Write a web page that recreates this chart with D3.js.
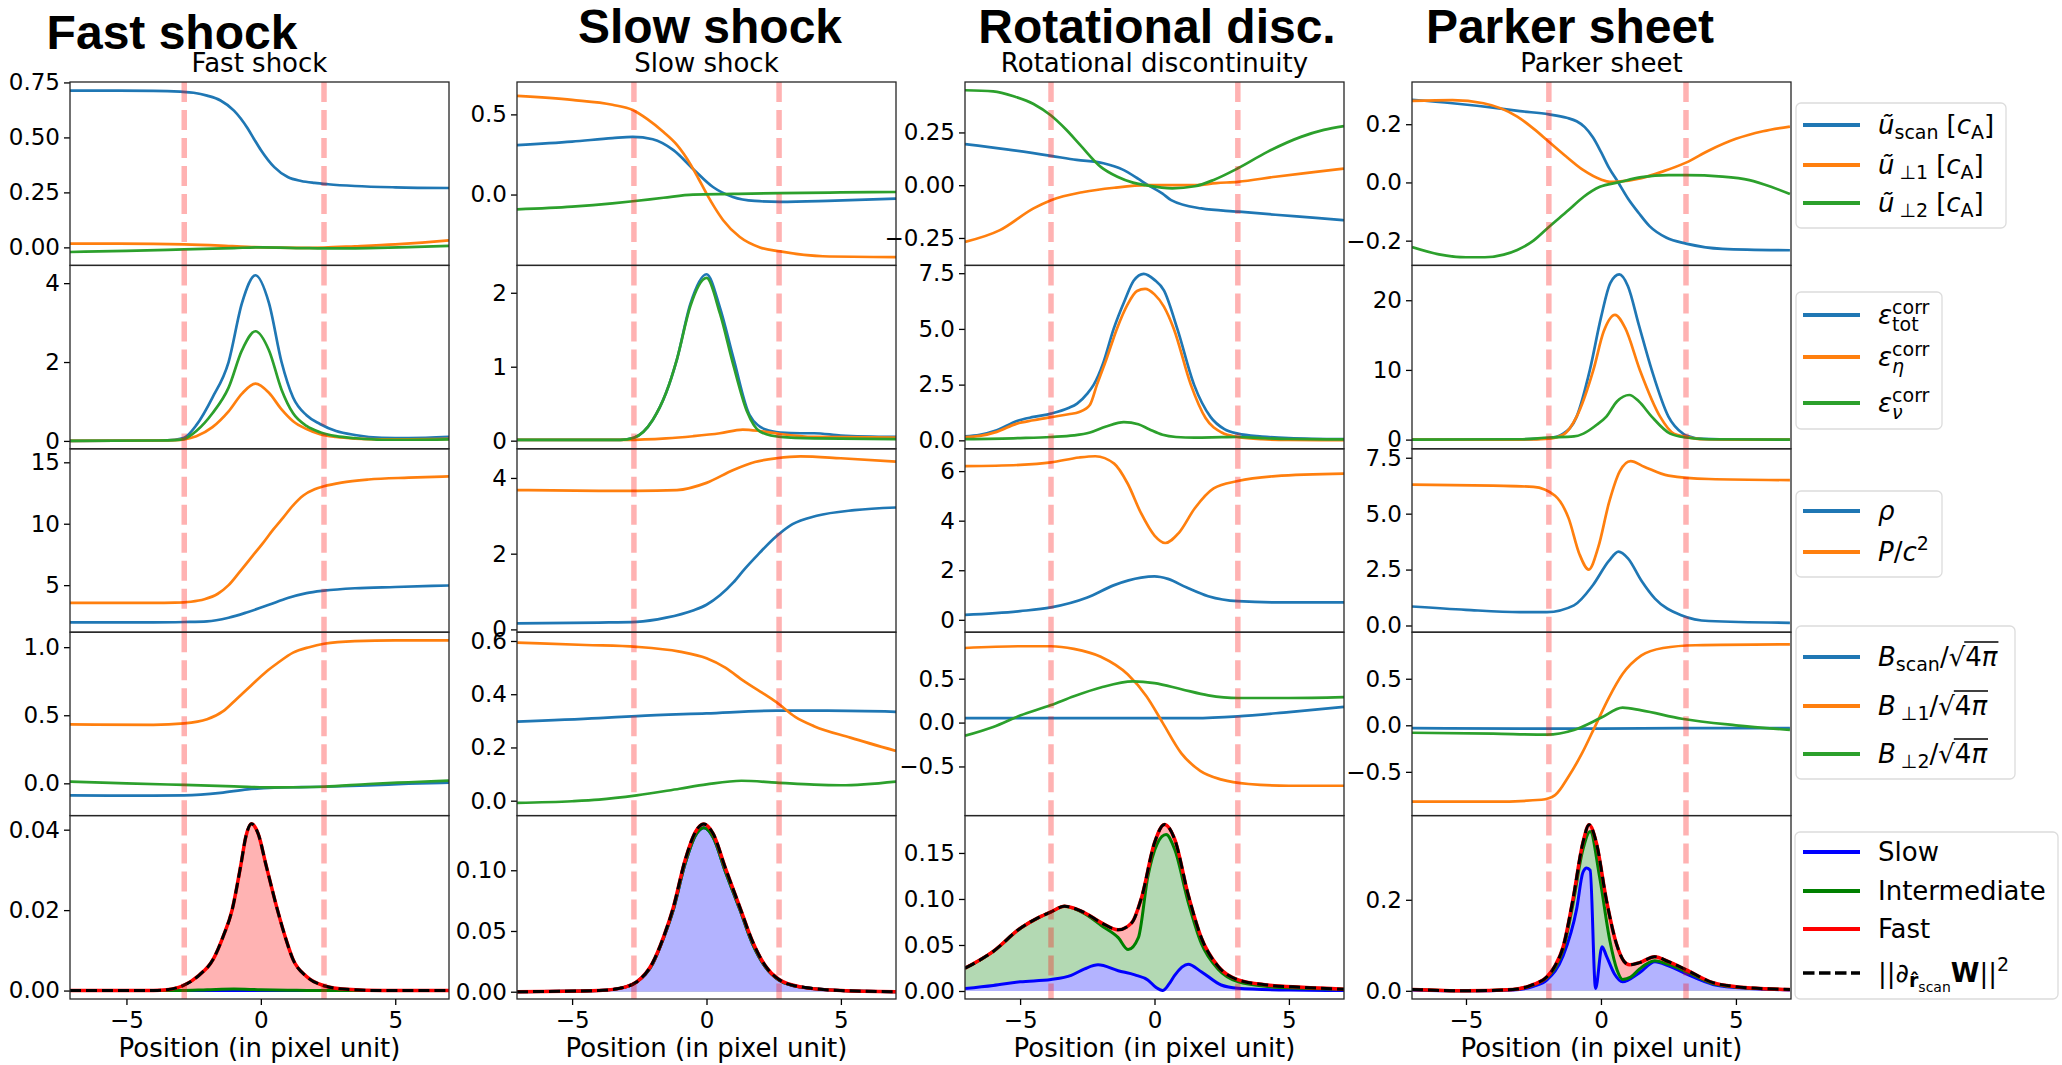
<!DOCTYPE html>
<html><head><meta charset="utf-8">
<script src="https://cdn.jsdelivr.net/npm/d3@7"></script>
<style>body{margin:0;background:#fff} text{font-family:"DejaVu Sans",sans-serif;fill:#000}</style>
</head><body><svg id="c" width="2062" height="1065"></svg>
<script>
// ---------------- DATA (x in pixel units, y values) ----------------
const bigTitles = ["Fast shock","Slow shock","Rotational disc.","Parker sheet"];
const subTitles = ["Fast shock","Slow shock","Rotational discontinuity","Parker sheet"];
const xTicks = [-5,0,5];
const xLabel = "Position (in pixel unit)";
const dashPos = [[-2.85,2.35],[-2.7,2.7],[-3.85,3.1],[-1.93,3.15]];

// Row 1: velocities
const fast_u_scan=[[-7.1,0.713],[-4,0.712],[-3,0.708],[-2.5,0.703],[-2,0.69],[-1.5,0.668],[-1,0.622],[-0.5,0.543],[-0.25,0.492],[0,0.443],[0.5,0.365],[1,0.32],[1.5,0.302],[2,0.293],[2.5,0.287],[3.5,0.279],[5,0.273],[7,0.27]];
const fast_u_perp1=[[-7.1,0.017],[-4,0.016],[-2.85,0.014],[-1.5,0.008],[-0.5,0.002],[0.5,-0.001],[1.5,-0.002],[2.35,-0.001],[3.5,0.005],[5,0.014],[6,0.022],[7,0.032]];
const fast_u_perp2=[[-7.1,-0.021],[-5,-0.016],[-2.85,-0.009],[-1,-0.003],[0,0],[1.5,-0.003],[2.35,-0.005],[4,-0.003],[5.5,0.001],[7,0.007]];
const slow_u_scan=[[-7.05,0.308],[-5,0.33],[-3.5,0.352],[-2.74,0.36],[-2,0.345],[-1.23,0.277],[-0.5,0.16],[0.24,0.047],[0.98,-0.015],[1.8,-0.04],[2.74,-0.046],[4.5,-0.04],[7.05,-0.025]];
const slow_u_perp1=[[-7.05,0.615],[-5,0.59],[-3.5,0.56],[-2.74,0.527],[-2.2,0.47],[-1.6,0.39],[-1.1,0.31],[-0.6,0.19],[-0.3,0.1],[0,0.006],[0.3,-0.08],[0.62,-0.16],[1.24,-0.265],[1.99,-0.33],[2.74,-0.355],[4.33,-0.385],[7.05,-0.39]];
const slow_u_perp2=[[-7.05,-0.092],[-5,-0.075],[-3.5,-0.055],[-2.74,-0.042],[-1.6,-0.02],[-0.5,0],[1,0.004],[2.74,0.009],[5,0.013],[7.05,0.016]];
const rot_u_scan=[[-7.05,0.195],[-5.5,0.17],[-3.85,0.139],[-2.9,0.12],[-1.9,0.104],[-1.2,0.075],[-0.6,0.03],[-0.3,0.005],[0.3,-0.04],[0.62,-0.071],[1.74,-0.11],[3.1,-0.125],[4.5,-0.14],[6,-0.155],[7.05,-0.166]];
const rot_u_perp1=[[-7.05,-0.269],[-5.75,-0.213],[-4.5,-0.11],[-3.85,-0.071],[-2.64,-0.032],[-1.5,-0.012],[-0.3,0],[1.5,0],[2.3,0.01],[3.1,0.016],[4.5,0.04],[6,0.063],[7.05,0.079]];
const rot_u_perp2=[[-7.05,0.45],[-6,0.445],[-5.2,0.42],[-4.5,0.385],[-3.85,0.33],[-3.3,0.265],[-2.76,0.19],[-2.0,0.087],[-1.38,0.04],[-0.8,0.012],[-0.33,0],[0.66,-0.015],[1.5,-0.005],[2.2,0.025],[3.1,0.08],[4.2,0.158],[5.45,0.229],[6.3,0.262],[7.05,0.28]];
const park_u_scan=[[-7,0.284],[-5.5,0.272],[-4,0.257],[-3,0.245],[-1.93,0.234],[-1.27,0.222],[-0.9,0.21],[-0.6,0.19],[-0.3,0.155],[0,0.105],[0.3,0.05],[0.64,0],[1.0,-0.055],[1.4,-0.105],[1.8,-0.15],[2.43,-0.19],[3.15,-0.21],[4.5,-0.228],[7,-0.233]];
const park_u_perp1=[[-7,0.28],[-5.5,0.283],[-4.35,0.272],[-3.1,0.226],[-2.5,0.185],[-1.93,0.14],[-1.3,0.09],[-0.65,0.042],[0,0.01],[0.33,0.002],[0.64,0.003],[1.5,0.015],[2.3,0.038],[3.15,0.068],[4,0.11],[5,0.15],[6,0.176],[7,0.192]];
const park_u_perp2=[[-7,-0.222],[-6,-0.247],[-5,-0.257],[-4.3,-0.257],[-3.6,-0.248],[-3.1,-0.232],[-2.5,-0.2],[-1.93,-0.153],[-1.2,-0.095],[-0.65,-0.05],[-0.04,-0.015],[0.64,0],[1.5,0.018],[2.5,0.025],[3.15,0.025],[4.5,0.02],[5.5,0.008],[6.3,-0.015],[7,-0.04]];

// Row 2: dissipation
const fast_eps_tot=[[-7.1,0],[-3.8,0.01],[-3.2,0.03],[-2.85,0.08],[-2.4,0.4],[-1.8,1.1],[-1.2,2.0],[-0.7,3.5],[-0.2,4.2],[0.3,3.5],[0.77,2.0],[1.2,1.1],[1.7,0.65],[2.2,0.43],[2.8,0.25],[3.5,0.15],[4.5,0.08],[5.5,0.07],[7,0.1]];
const fast_eps_eta=[[-7.1,0],[-3.8,0.01],[-3.2,0.02],[-2.85,0.04],[-2.4,0.12],[-1.8,0.35],[-1.2,0.75],[-0.7,1.2],[-0.2,1.45],[0.3,1.22],[0.77,0.8],[1.2,0.5],[1.7,0.3],[2.2,0.17],[2.8,0.1],[3.5,0.06],[4.5,0.04],[5.5,0.04],[7,0.05]];
const fast_eps_nu=[[-7.1,0],[-3.8,0.01],[-3.2,0.02],[-2.85,0.05],[-2.4,0.25],[-1.8,0.7],[-1.2,1.35],[-0.7,2.3],[-0.2,2.78],[0.3,2.3],[0.77,1.3],[1.2,0.7],[1.7,0.38],[2.2,0.22],[2.8,0.12],[3.5,0.07],[4.5,0.03],[5.5,0.03],[7,0.04]];
const slow_eps_tot=[[-7.05,0.01],[-3.2,0.01],[-2.7,0.04],[-2,0.28],[-1.5,0.65],[-1.1,1.1],[-0.6,1.85],[0,2.25],[0.5,1.8],[1.0,1.12],[1.6,0.35],[2.2,0.15],[2.75,0.11],[3.5,0.1],[4,0.1],[5,0.07],[7.05,0.05]];
const slow_eps_eta=[[-7.05,0.01],[-3,0.01],[-1.5,0.03],[-0.5,0.06],[0.5,0.1],[1.35,0.15],[2,0.13],[2.75,0.09],[4,0.05],[7.05,0.04]];
const slow_eps_nu=[[-7.05,0.01],[-3.2,0.01],[-2.7,0.04],[-2,0.28],[-1.5,0.65],[-1.1,1.1],[-0.6,1.82],[0,2.2],[0.5,1.72],[1.0,1.02],[1.5,0.4],[2.0,0.12],[2.75,0.05],[4,0.03],[7.05,0.02]];
const rot_eps_tot=[[-7.05,0.18],[-6.5,0.25],[-5.87,0.45],[-5.12,0.87],[-4.5,1.05],[-3.85,1.2],[-3.2,1.45],[-2.88,1.65],[-2.5,2.1],[-2.26,2.5],[-1.9,3.5],[-1.52,5.0],[-1.1,6.3],[-0.77,7.17],[-0.4,7.47],[0,7.2],[0.35,6.73],[0.85,5.0],[1.47,2.5],[2.09,1.04],[2.6,0.5],[3.1,0.3],[4,0.17],[5,0.1],[7.05,0.05]];
const rot_eps_eta=[[-7.05,0.15],[-6.5,0.2],[-5.87,0.38],[-5.12,0.75],[-4.5,0.9],[-3.85,1.04],[-3.2,1.17],[-2.8,1.27],[-2.4,1.6],[-2.14,2.5],[-1.8,3.6],[-1.4,5.0],[-1.0,6.1],[-0.65,6.7],[-0.35,6.8],[0,6.55],[0.35,6.0],[0.72,5.0],[1.35,2.5],[1.9,1.0],[2.5,0.35],[3.1,0.15],[4,0.05],[5,0.02],[7.05,0.01]];
const rot_eps_nu=[[-7.05,0.05],[-5,0.1],[-3.85,0.15],[-3,0.22],[-2.4,0.35],[-1.8,0.62],[-1.14,0.82],[-0.6,0.72],[-0.2,0.5],[0.3,0.25],[0.8,0.15],[1.5,0.12],[2.5,0.14],[3.1,0.15],[4,0.1],[5,0.06],[7.05,0.04]];
const park_eps_tot=[[-7,0],[-3,0.02],[-1.93,0.2],[-1.4,0.86],[-0.9,3.3],[-0.41,10],[0,17.5],[0.35,22.5],[0.68,23.7],[1.0,22],[1.4,16.5],[1.88,10],[2.5,3.3],[3.04,0.86],[3.15,0.6],[3.8,0.1],[5,0],[7,0]];
const park_eps_eta=[[-7,0],[-3,0.01],[-1.93,0.15],[-1.4,0.7],[-0.9,3.3],[-0.28,10],[0.1,15.5],[0.52,17.9],[0.9,16],[1.44,10],[2.19,3.3],[2.7,0.86],[3.15,0.4],[3.8,0.05],[5,0],[7,0]];
const park_eps_nu=[[-7,0],[-3,0.05],[-1.93,0.3],[-1,0.45],[-0.65,0.86],[-0.2,2.0],[0.2,3.3],[0.6,5.5],[1.05,6.4],[1.4,5.5],[1.88,3.3],[2.56,0.86],[3.15,0.3],[4,0.05],[7,0]];

// Row 3: density and pressure
const fast_rho=[[-7.1,1.97],[-4,1.97],[-2.85,2.0],[-2,2.05],[-1.2,2.35],[-0.5,2.8],[0.3,3.4],[1,3.95],[1.7,4.35],[2.35,4.55],[3.5,4.75],[5,4.85],[7,4.97]];
const fast_P=[[-7.1,3.56],[-4,3.55],[-3.2,3.57],[-2.6,3.65],[-2.1,3.85],[-1.6,4.3],[-1.2,5.0],[-0.78,6.1],[-0.3,7.4],[0.07,8.4],[0.45,9.5],[0.83,10.5],[1.2,11.5],[1.58,12.3],[2.0,12.8],[2.35,13.05],[3,13.35],[4,13.6],[5.5,13.75],[7,13.85]];
const slow_rho=[[-7.05,0.16],[-4,0.18],[-2.6,0.2],[-1.5,0.31],[-0.5,0.5],[0,0.65],[0.5,0.9],[1,1.24],[1.4,1.58],[1.88,1.95],[2.6,2.46],[3.2,2.78],[4.1,3.0],[5.5,3.15],[7.05,3.22]];
const slow_P=[[-7.05,3.68],[-4,3.66],[-2.6,3.66],[-1.1,3.68],[0,3.87],[1,4.21],[1.8,4.42],[2.6,4.52],[3.5,4.57],[5,4.52],[7.05,4.43]];
const rot_rho=[[-7.05,0.2],[-5,0.35],[-3.85,0.5],[-2.5,0.9],[-1.5,1.4],[-0.5,1.7],[0,1.75],[0.5,1.65],[1.2,1.3],[2,0.95],[3.1,0.75],[5,0.7],[7.05,0.7]];
const rot_P=[[-7.05,6.2],[-5,6.25],[-3.85,6.35],[-2.8,6.55],[-2.2,6.6],[-1.5,6.3],[-1,5.5],[-0.5,4.3],[0,3.4],[0.4,3.1],[0.9,3.5],[1.5,4.5],[2.2,5.3],[3.1,5.6],[4.5,5.8],[7.05,5.9]];
const park_rho=[[-7,0.85],[-5,0.7],[-3,0.6],[-2,0.6],[-1,0.9],[-0.3,1.8],[0.3,2.9],[0.65,3.3],[1.0,3.0],[1.5,2.0],[2,1.2],[3,0.45],[4,0.2],[7,0.12]];
const park_P=[[-7,6.3],[-4,6.25],[-2.5,6.2],[-1.7,5.8],[-1.2,4.8],[-0.8,3.2],[-0.45,2.5],[-0.1,3.5],[0.3,5.5],[0.7,6.9],[1.1,7.35],[1.6,7.1],[2.5,6.7],[4,6.55],[7,6.5]];

// Row 4: magnetic field
const fast_B_scan=[[-7.1,-0.089],[-4,-0.09],[-2.85,-0.088],[-1.5,-0.07],[-0.5,-0.045],[0.5,-0.032],[1.5,-0.028],[2.35,-0.025],[4,-0.015],[5.5,-0.003],[7,0.005]];
const fast_B_perp1=[[-7.1,0.433],[-4,0.43],[-2.85,0.44],[-2,0.47],[-1.4,0.53],[-0.9,0.62],[-0.37,0.717],[0.2,0.82],[0.6,0.88],[1.2,0.96],[1.8,1.0],[2.35,1.025],[3.5,1.045],[5,1.05],[7,1.05]];
const fast_B_perp2=[[-7.1,0.012],[-5,0.0],[-2.85,-0.012],[-1,-0.022],[0.5,-0.03],[2.35,-0.025],[4,-0.005],[5.5,0.008],[7,0.02]];
const slow_B_scan=[[-7.05,0.297],[-4,0.31],[-2.6,0.318],[0,0.328],[2.6,0.338],[4.5,0.338],[7.05,0.334]];
const slow_B_perp1=[[-7.05,0.594],[-4.5,0.585],[-2.6,0.578],[-1.0,0.56],[0,0.535],[0.7,0.5],[1.38,0.45],[2.0,0.41],[2.6,0.37],[3.3,0.315],[4.0,0.28],[5.35,0.237],[7.05,0.187]];
const slow_B_perp2=[[-7.05,-0.008],[-5,-0.002],[-4,0.004],[-2.6,0.02],[-1,0.045],[0,0.061],[1.3,0.075],[2.6,0.068],[4,0.06],[5,0.058],[7.05,0.072]];
const rot_B_scan=[[-7.05,0.05],[-4,0.05],[-2,0.05],[0,0.05],[1.5,0.05],[3.1,0.07],[5,0.12],[7.05,0.18]];
const rot_B_perp1=[[-7.05,0.85],[-5,0.87],[-3.85,0.87],[-3,0.84],[-2,0.75],[-1,0.55],[-0.3,0.3],[0.3,0],[1,-0.35],[1.7,-0.55],[2.5,-0.65],[3.5,-0.7],[5,-0.72],[7.05,-0.72]];
const rot_B_perp2=[[-7.05,-0.15],[-6,-0.05],[-5,0.08],[-3.85,0.2],[-3,0.3],[-2,0.4],[-0.8,0.47],[0,0.45],[1,0.38],[2,0.31],[3.1,0.28],[5,0.28],[7.05,0.29]];
const park_B_scan=[[-7,-0.03],[-3,-0.035],[0,-0.035],[3,-0.03],[7,-0.03]];
const park_B_perp1=[[-7,-0.82],[-4,-0.82],[-2.2,-0.8],[-1.7,-0.75],[-1.2,-0.55],[-0.7,-0.3],[-0.2,0],[0.3,0.3],[0.8,0.55],[1.5,0.75],[2.3,0.83],[3.5,0.86],[7,0.87]];
const park_B_perp2=[[-7,-0.08],[-4,-0.09],[-2,-0.1],[-1,-0.05],[0,0.08],[0.8,0.19],[1.5,0.16],[3,0.07],[5,0.0],[7,-0.05]];

// Row 5: wave decomposition (cumulative: slow, slow+intermediate, total)
const fast_slow=[[-7.1,0],[7,0]];
const fast_inter=[[-7.1,0],[-3,0],[-2,0.0002],[-1,0.0004],[0,0.0002],[1,0.0001],[2,0],[7,0]];
const fast_total=[[-7.1,0],[-4,0],[-3.5,0.0002],[-2.9,0.0012],[-2.3,0.0038],[-1.78,0.0077],[-1.4,0.0135],[-1.07,0.02],[-0.75,0.031],[-0.55,0.0385],[-0.35,0.0415],[-0.1,0.039],[0.2,0.031],[0.62,0.02],[0.9,0.0135],[1.2,0.0077],[1.7,0.0035],[2.35,0.0012],[3.2,0.0003],[4.5,0],[7,0]];
const slow_slow=[[-7.05,0],[-4,0.001],[-3,0.004],[-2.6,0.008],[-2,0.023],[-1.6,0.044],[-1.24,0.067],[-0.8,0.105],[-0.4,0.129],[-0.1,0.135],[0.25,0.127],[0.7,0.099],[1.25,0.067],[1.7,0.04],[2.2,0.02],[2.7,0.0095],[3.5,0.0038],[5,0.001],[7.05,0]];
const slow_inter=slow_slow;
const slow_total=[[-7.05,0],[-4,0.001],[-3,0.004],[-2.6,0.008],[-2,0.024],[-1.6,0.045],[-1.24,0.069],[-0.8,0.108],[-0.4,0.132],[-0.1,0.138],[0.25,0.13],[0.7,0.102],[1.25,0.069],[1.7,0.042],[2.2,0.021],[2.7,0.01],[3.5,0.004],[5,0.001],[7.05,0]];
const rot_slow=[[-7.05,0.0027],[-6,0.006],[-5,0.01],[-3.85,0.0125],[-3.1,0.017],[-2.6,0.024],[-2.1,0.0284],[-1.35,0.022],[-0.73,0.0175],[-0.25,0.012],[0.05,0.004],[0.3,0.0005],[0.55,0.008],[0.75,0.017],[1.25,0.029],[1.74,0.021],[2.48,0.0065],[3.1,0.003],[5,0.001],[7.05,0.0005]];
const rot_inter=[[-7.05,0.0247],[-6,0.043],[-5,0.068],[-4.3,0.08],[-3.85,0.086],[-3.35,0.092],[-2.6,0.084],[-1.97,0.071],[-1.35,0.058],[-0.98,0.045],[-0.6,0.058],[-0.25,0.124],[0.1,0.16],[0.43,0.17],[0.75,0.154],[1.25,0.097],[1.74,0.052],[2.36,0.024],[3.12,0.01],[4.2,0.005],[5.5,0.003],[7.05,0.002]];
const rot_total=[[-7.05,0.0247],[-6,0.043],[-5,0.068],[-4.3,0.08],[-3.85,0.086],[-3.35,0.092],[-2.6,0.085],[-1.97,0.074],[-1.35,0.0665],[-0.85,0.074],[-0.48,0.1017],[0,0.161],[0.37,0.181],[0.75,0.165],[1.25,0.105],[1.74,0.058],[2.36,0.027],[3.12,0.012],[4.2,0.0065],[5.5,0.004],[7.05,0.002]];
const park_slow=[[-7,0.002],[-5,0],[-3.26,0.002],[-2.5,0.01],[-2.0,0.024],[-1.4,0.077],[-0.9,0.18],[-0.67,0.26],[-0.53,0.27],[-0.4,0.265],[-0.2,0.005],[0.04,0.097],[0.2,0.077],[0.5,0.037],[0.8,0.02],[1.43,0.04],[2.0,0.064],[2.5,0.055],[3.16,0.037],[4.15,0.014],[5,0.007],[5.9,0.004],[7,0.002]];
const park_inter=[[-7,0.003],[-5,0],[-3.26,0.003],[-2.5,0.013],[-2.0,0.029],[-1.7,0.05],[-1.4,0.09],[-1.04,0.19],[-0.67,0.31],[-0.4,0.35],[-0.05,0.25],[0.33,0.11],[0.6,0.045],[0.8,0.025],[1.1,0.03],[1.43,0.048],[1.99,0.066],[2.5,0.058],[3.16,0.042],[4.15,0.016],[5,0.008],[5.9,0.005],[7,0.003]];
const park_total=[[-7,0.003],[-5,0],[-3.26,0.003],[-2.5,0.014],[-2.0,0.031],[-1.7,0.055],[-1.4,0.097],[-1.04,0.2],[-0.67,0.325],[-0.44,0.365],[-0.17,0.325],[0.2,0.2],[0.57,0.104],[0.85,0.065],[1.06,0.057],[1.43,0.062],[1.99,0.075],[2.5,0.064],[3.16,0.046],[4.15,0.018],[5,0.009],[5.9,0.005],[7,0.003]];

// Axis settings per row / column
const xDomains=[[-7.1,7.0],[-7.05,7.05],[-7.05,7.05],[-7.0,7.04]];
const yDomains=[
 [[-0.082,0.752],[-0.442,0.702],[-0.38,0.489],[-0.285,0.345]],
 [[-0.2,4.45],[-0.11,2.37],[-0.38,7.85],[-1.32,25.0]],
 [[1.17,16.1],[-0.074,4.77],[-0.5,6.9],[-0.3,7.9]],
 [[-0.237,1.11],[-0.056,0.633],[-1.06,1.03],[-0.97,1.0]],
 [[-0.0021,0.0435],[-0.006,0.145],[-0.0087,0.1906],[-0.018,0.385]]];
const yTicks=[
 [[0,0.25,0.5,0.75],[0,0.5],[-0.25,0,0.25],[-0.2,0,0.2]],
 [[0,2,4],[0,1,2],[0,2.5,5,7.5],[0,10,20]],
 [[5,10,15],[0,2,4],[0,2,4,6],[0,2.5,5,7.5]],
 [[0,0.5,1],[0,0.2,0.4,0.6],[-0.5,0,0.5],[-0.5,0,0.5]],
 [[0,0.02,0.04],[0,0.05,0.1],[0,0.05,0.1,0.15],[0,0.2]]];
const yFmt=[
 [".2f",".1f",".2f",".1f"],
 ["d","d",".1f","d"],
 ["d","d","d",".1f"],
 [".1f",".1f",".1f",".1f"],
 [".2f",".2f",".2f",".1f"]];

const rowSeries=[
 [[fast_u_scan,fast_u_perp1,fast_u_perp2],[slow_u_scan,slow_u_perp1,slow_u_perp2],[rot_u_scan,rot_u_perp1,rot_u_perp2],[park_u_scan,park_u_perp1,park_u_perp2]],
 [[fast_eps_tot,fast_eps_eta,fast_eps_nu],[slow_eps_tot,slow_eps_eta,slow_eps_nu],[rot_eps_tot,rot_eps_eta,rot_eps_nu],[park_eps_tot,park_eps_eta,park_eps_nu]],
 [[fast_rho,fast_P],[slow_rho,slow_P],[rot_rho,rot_P],[park_rho,park_P]],
 [[fast_B_scan,fast_B_perp1,fast_B_perp2],[slow_B_scan,slow_B_perp1,slow_B_perp2],[rot_B_scan,rot_B_perp1,rot_B_perp2],[park_B_scan,park_B_perp1,park_B_perp2]]];
const waveSeries=[[fast_slow,fast_inter,fast_total],[slow_slow,slow_inter,slow_total],[rot_slow,rot_inter,rot_total],[park_slow,park_inter,park_total]];

// ---------------- LAYOUT / STYLE ----------------
const TAB=["#1f77b4","#ff7f0e","#2ca02c"];
const colLeft=[70,517,965,1412], colW=379;
const rowTop=[82,265.4,448.8,632.2,815.6], rowH=183.4;
const bigTitleX=[172,710,1157,1570], bigTitleY=[49,42.5,42.5,42.5];

const svg=d3.select("#c");
svg.append("rect").attr("width",2062).attr("height",1065).attr("fill","#fff");
const defs=svg.append("defs");

function lineGen(x,y){return d3.line().x(d=>x(d[0])).y(d=>y(d[1])).curve(d3.curveMonotoneX);}
function areaGen(x,y){return d3.area().x(d=>x(d[0])).y0(y(0)).y1(d=>y(d[1])).curve(d3.curveMonotoneX);}

for(let c=0;c<4;c++){
  const L=colLeft[c];
  svg.append("text").attr("x",bigTitleX[c]).attr("y",bigTitleY[c]).attr("text-anchor","middle")
    .style("font-family","'Liberation Sans',Arial,sans-serif").attr("font-weight","bold").attr("font-size",48).text(bigTitles[c]);
  svg.append("text").attr("x",L+colW/2).attr("y",72).attr("text-anchor","middle").attr("font-size",26).text(subTitles[c]);
  const x=d3.scaleLinear().domain(xDomains[c]).range([L,L+colW]);
  for(let r=0;r<5;r++){
    const T=rowTop[r];
    const y=d3.scaleLinear().domain(yDomains[r][c]).range([T+rowH,T]);
    const id=`clip${r}${c}`;
    defs.append("clipPath").attr("id",id).append("rect").attr("x",L).attr("y",T).attr("width",colW).attr("height",rowH);
    const g=svg.append("g").attr("clip-path",`url(#${id})`);
    if(r<4){
      rowSeries[r][c].forEach((s,i)=>{
        g.append("path").attr("d",lineGen(x,y)(s)).attr("fill","none").attr("stroke",TAB[i])
          .attr("stroke-width",2.7).attr("stroke-linejoin","round");
      });
    } else {
      const [s,si,t]=waveSeries[c];
      const A=areaGen(x,y);
      g.append("path").attr("d",A(t)).attr("fill","#ffb3b3");
      g.append("path").attr("d",A(si)).attr("fill","#b3d9b3");
      g.append("path").attr("d",A(s)).attr("fill","#b3b3ff");
      const ln=lineGen(x,y);
      g.append("path").attr("d",ln(s)).attr("fill","none").attr("stroke","#0000ff").attr("stroke-width",3);
      g.append("path").attr("d",ln(si)).attr("fill","none").attr("stroke","#008000").attr("stroke-width",3);
      g.append("path").attr("d",ln(t)).attr("fill","none").attr("stroke","#ff0000").attr("stroke-width",3.5);
      g.append("path").attr("d",ln(t)).attr("fill","none").attr("stroke","#000").attr("stroke-width",3).attr("stroke-dasharray","11,5");
    }
    dashPos[c].forEach(v=>{
      g.append("line").attr("x1",x(v)).attr("x2",x(v)).attr("y1",T).attr("y2",T+rowH)
        .attr("stroke","#ff0000").attr("stroke-opacity",0.3).attr("stroke-width",5.5).attr("stroke-dasharray","20,8");
    });
    const ax=svg.append("g").attr("transform",`translate(${L},0)`)
      .call(d3.axisLeft(y).tickValues(yTicks[r][c]).tickFormat(d3.format(yFmt[r][c])).tickSize(6).tickPadding(4));
    ax.select(".domain").remove();
    ax.attr("font-size",23).attr("font-family","DejaVu Sans");
    ax.selectAll("line").attr("stroke","#000").attr("stroke-width",1.3);
    ax.selectAll("text").attr("fill","#000");
    svg.append("rect").attr("x",L).attr("y",T).attr("width",colW).attr("height",rowH)
      .attr("fill","none").attr("stroke","#262626").attr("stroke-width",1.3);
    if(r===4){
      const bx=svg.append("g").attr("transform",`translate(0,${T+rowH})`)
        .call(d3.axisBottom(x).tickValues(xTicks).tickFormat(d3.format("d")).tickSize(6).tickPadding(7));
      bx.select(".domain").remove();
      bx.attr("font-size",23).attr("font-family","DejaVu Sans");
      bx.selectAll("line").attr("stroke","#000").attr("stroke-width",1.3);
      bx.selectAll("text").attr("fill","#000");
      svg.append("text").attr("x",L+colW/2).attr("y",1057).attr("text-anchor","middle").attr("font-size",26).text(xLabel);
    }
  }
}

// ---------------- LEGENDS ----------------
const L_USCAN=[{t:"ũ",i:1},{t:"scan",sub:1},{gap:8},{t:"["},{t:"c",i:1},{t:"A",sub:1},{t:"]"}];
const L_UP1=[{t:"ũ",i:1},{gap:5},{t:"⊥1",sub:1},{gap:8},{t:"["},{t:"c",i:1},{t:"A",sub:1},{t:"]"}];
const L_UP2=[{t:"ũ",i:1},{gap:5},{t:"⊥2",sub:1},{gap:8},{t:"["},{t:"c",i:1},{t:"A",sub:1},{t:"]"}];
const L_ETOT=[{t:"ε",i:1},{sup:"corr",sub:"tot"}];
const L_EETA=[{t:"ε",i:1},{sup:"corr",sub:"η"}];
const L_ENU=[{t:"ε",i:1},{sup:"corr",sub:"ν"}];
const L_RHO=[{t:"ρ",i:1}];
const L_PC2=[{t:"P",i:1},{t:"/"},{t:"c",i:1},{t:"2",sup:1}];
const L_BSCAN=[{t:"B",i:1},{t:"scan",sub:1},{t:"/"},{sqrt:1}];
const L_BP1=[{t:"B",i:1},{gap:5},{t:"⊥1",sub:1},{t:"/"},{sqrt:1}];
const L_BP2=[{t:"B",i:1},{gap:5},{t:"⊥2",sub:1},{t:"/"},{sqrt:1}];
const L_NORM=[{t:"||"},{t:"∂"},{t:"r̂",sub:1,b:1},{t:"scan",subsub:1},{t:"W",b:1},{t:"||"},{t:"2",sup:1}];

const legends=[
 {box:[1796,103,210,125],items:[[TAB[0],125,L_USCAN],[TAB[1],165,L_UP1],[TAB[2],203,L_UP2]]},
 {box:[1796,292,146,137],items:[[TAB[0],315,L_ETOT],[TAB[1],357,L_EETA],[TAB[2],403,L_ENU]]},
 {box:[1796,491,146,86],items:[[TAB[0],511,L_RHO],[TAB[1],552,L_PC2]]},
 {box:[1796,626,219,153],items:[[TAB[0],657,L_BSCAN],[TAB[1],706,L_BP1],[TAB[2],754,L_BP2]]},
 {box:[1795,832,263,167],items:[["#0000ff",852,[{t:"Slow"}]],["#008000",891,[{t:"Intermediate"}]],["#ff0000",929,[{t:"Fast"}]],["#000",973,L_NORM,true]]}
];

function rich(g,x0,y,parts){
  let cx=x0;
  for(const p of parts){
    if(p.gap){cx+=p.gap;continue;}
    if(p.sup!==undefined && p.sub!==undefined){
      const a=g.append("text").attr("x",cx).attr("y",y-10).attr("font-size",19).text(p.sup);
      const b=g.append("text").attr("x",cx).attr("y",y+7).attr("font-size",19).attr("font-style","italic").text(p.sub);
      if(p.sub==="tot") b.attr("font-style",null);
      cx+=Math.max(a.node().getComputedTextLength(),b.node().getComputedTextLength());
      continue;
    }
    if(p.sqrt){
      const s=g.append("text").attr("x",cx).attr("y",y).attr("font-size",26).text("√");
      cx+=s.node().getComputedTextLength();
      const start=cx;
      const a=g.append("text").attr("x",cx).attr("y",y).attr("font-size",26).text("4");
      cx+=a.node().getComputedTextLength();
      const b=g.append("text").attr("x",cx).attr("y",y).attr("font-size",26).attr("font-style","italic").text("π");
      cx+=b.node().getComputedTextLength()+1;
      g.append("line").attr("x1",start-1).attr("x2",cx).attr("y1",y-24).attr("y2",y-24).attr("stroke","#000").attr("stroke-width",1.6);
      continue;
    }
    let size=26,dy=0;
    if(p.sub){size=19;dy=5;}
    if(p.sup){size=19;dy=-11;}
    if(p.subsub){size=14;dy=10;}
    const t=g.append("text").attr("x",cx).attr("y",y+dy).attr("font-size",size).text(p.t);
    if(p.i) t.attr("font-style","italic");
    if(p.b) t.attr("font-weight","bold");
    cx+=t.node().getComputedTextLength();
  }
}

legends.forEach(lg=>{
  const [bx,by,bw,bh]=lg.box;
  const g=svg.append("g");
  g.append("rect").attr("x",bx).attr("y",by).attr("width",bw).attr("height",bh).attr("rx",5)
    .attr("fill","#fff").attr("fill-opacity",0.8).attr("stroke","#dcdcdc").attr("stroke-width",1.3);
  lg.items.forEach(([col,yy,parts,dashed])=>{
    const l=g.append("line").attr("x1",1803).attr("x2",1860).attr("y1",yy).attr("y2",yy).attr("stroke",col).attr("stroke-width",dashed?3.5:3.8);
    if(dashed) l.attr("stroke-dasharray","11.5,4.5");
    rich(g,1878,yy+9,parts);
  });
});
</script></body></html>
